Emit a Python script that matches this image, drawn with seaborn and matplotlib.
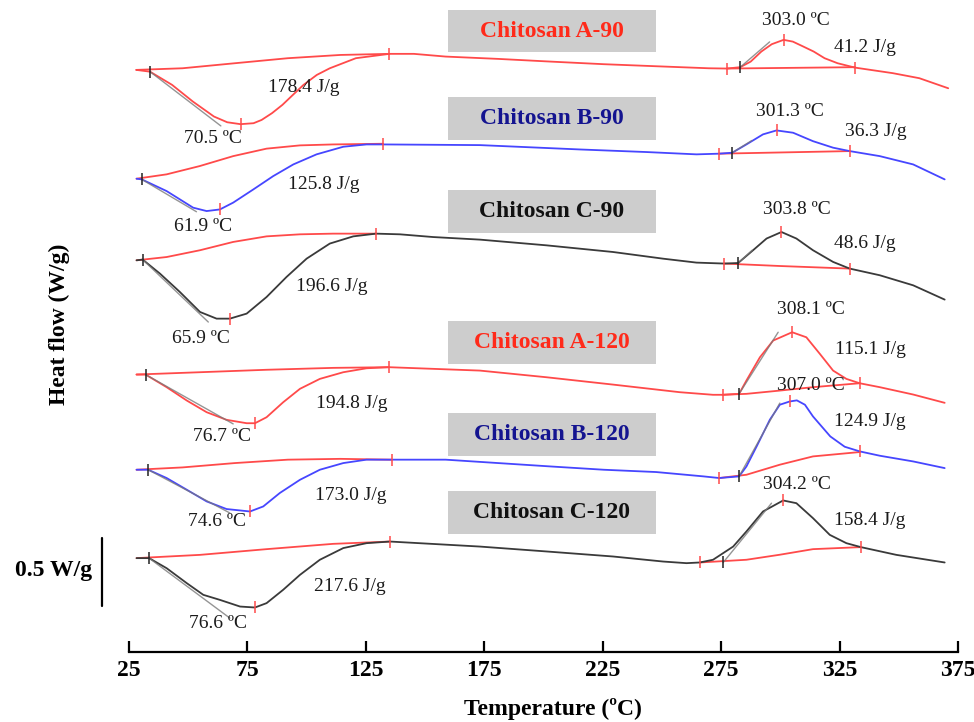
"""DSC thermograms of chitosan samples A/B/C dried at 90 and 120 ºC."""

import matplotlib.pyplot as plt
from matplotlib.patches import Rectangle
import seaborn as sns

# ---------------------------------------------------------------------------
# Data (temperature in ºC, heat flow in W/g relative
# to the first point of each curve).
# ---------------------------------------------------------------------------
samples = ["Chitosan A-90", "Chitosan B-90", "Chitosan C-90",
           "Chitosan A-120", "Chitosan B-120", "Chitosan C-120"]
curve_colors = ["#ff4a4a", "#4646ff", "#3a3a3a",
                "#ff4a4a", "#4646ff", "#3a3a3a"]
label_colors = ["#ff2a1a", "#141490", "#111111",
                "#ff2a1a", "#141490", "#111111"]
offsets = [4.28, 3.48, 2.88, 2.04, 1.34, 0.69]

a90_t = [28.1, 33.9, 43.2, 52.0, 60.9, 66.5, 72.1, 77.6, 81.0, 85.4, 89.8,
         94.2, 98.7, 104.3, 109.8, 120.8, 135.0, 145.3, 158.7, 180.8, 203.1,
         225.4, 247.4, 269.8, 277.4, 283.1, 287.5, 292.0, 296.4, 301.4, 305.3,
         309.8, 314.1, 318.7, 324.2, 331.5, 347.5, 358.7, 370.9]
a90_hf = [0.0, -0.013, -0.110, -0.233, -0.343, -0.385, -0.399, -0.392,
          -0.368, -0.318, -0.257, -0.184, -0.110, -0.037, 0.012, 0.086,
          0.118, 0.118, 0.098, 0.081, 0.061, 0.042, 0.027, 0.012, 0.010,
          0.020, 0.061, 0.135, 0.189, 0.221, 0.208, 0.171, 0.135, 0.086,
          0.049, 0.017, -0.024, -0.061, -0.135]

b90_t = [28.2, 30.4, 40.9, 52.1, 57.8, 63.4, 69.0, 77.5, 85.9, 94.4, 104.2,
         115.5, 125.3, 132.3, 173.2, 215.4, 243.5, 264.6, 274.2, 279.7, 285.7,
         292.7, 298.4, 305.4, 313.8, 322.3, 329.3, 342.0, 356.1, 369.4]
b90_hf = [0.0, -0.005, -0.091, -0.213, -0.238, -0.226, -0.176, -0.079,
          0.019, 0.105, 0.179, 0.235, 0.252, 0.252, 0.247, 0.215, 0.196,
          0.179, 0.184, 0.191, 0.252, 0.326, 0.355, 0.338, 0.276, 0.228,
          0.203, 0.166, 0.105, -0.005]

c90_t = [28.2, 30.8, 38.1, 46.5, 55.0, 62.0, 67.6, 74.7, 83.1, 91.5, 100.0,
         109.8, 119.7, 129.3, 139.4, 153.4, 173.2, 201.3, 229.4, 250.5, 264.6,
         276.3, 282.2, 288.5, 294.2, 300.5, 306.8, 313.8, 322.3, 329.3, 342.0,
         356.1, 369.4]
c90_hf = [0.0, 0.005, -0.098, -0.233, -0.380, -0.429, -0.429, -0.392,
          -0.270, -0.123, 0.012, 0.123, 0.176, 0.196, 0.191, 0.171, 0.152,
          0.110, 0.061, 0.012, -0.017, -0.024, -0.020, 0.074, 0.160, 0.208,
          0.160, 0.074, -0.012, -0.061, -0.110, -0.184, -0.289]

a120_t = [28.2, 32.0, 40.9, 49.4, 57.8, 66.2, 74.7, 78.2, 83.1, 90.1, 97.2,
          105.6, 115.5, 125.3, 134.7, 173.2, 201.3, 229.4, 257.6, 271.6, 275.6,
          282.6, 285.7, 291.4, 297.0, 305.0, 311.0, 316.7, 322.3, 327.9, 333.5,
          342.0, 356.1, 369.4]
a120_hf = [0.0, 0.0, -0.093, -0.191, -0.277, -0.333, -0.358, -0.358, -0.314,
           -0.204, -0.105, -0.032, 0.017, 0.046, 0.054, 0.029, -0.020, -0.074,
           -0.130, -0.149, -0.149, -0.142, -0.044, 0.127, 0.250, 0.311, 0.274,
           0.152, 0.029, -0.032, -0.064, -0.093, -0.147, -0.208]

b120_t = [28.2, 33.1, 40.9, 49.4, 57.8, 66.2, 76.1, 81.7, 88.7, 97.2, 105.6,
          115.5, 125.3, 135.9, 158.7, 180.9, 203.1, 225.4, 247.6, 267.6, 274.2,
          282.6, 285.7, 290.0, 295.6, 299.8, 304.0, 307.0, 310.4, 313.8, 321.1,
          327.2, 333.5, 342.0, 356.1, 369.4]
b120_hf = [0.0, 0.0, -0.061, -0.147, -0.233, -0.289, -0.307, -0.270, -0.171,
           -0.074, 0.0, 0.049, 0.074, 0.074, 0.074, 0.049, 0.024, 0.0, -0.017,
           -0.049, -0.061, -0.049, 0.024, 0.171, 0.368, 0.478, 0.502, 0.510,
           0.478, 0.392, 0.245, 0.169, 0.135, 0.103, 0.061, 0.012]

c120_t = [28.2, 33.5, 40.9, 49.4, 56.4, 63.4, 71.9, 78.2, 83.1, 90.1, 97.2,
          105.6, 115.5, 125.3, 135.2, 173.2, 201.3, 229.4, 250.5, 260.4, 266.0,
          271.6, 280.1, 285.7, 292.7, 301.2, 306.8, 313.8, 320.9, 327.9, 334.0,
          349.0, 369.4]
c120_hf = [0.0, 0.0, -0.074, -0.184, -0.270, -0.307, -0.356, -0.363, -0.331,
           -0.233, -0.123, -0.012, 0.074, 0.110, 0.122, 0.085, 0.049, 0.012,
           -0.025, -0.037, -0.032, -0.012, 0.085, 0.196, 0.343, 0.424, 0.404,
           0.294, 0.171, 0.110, 0.081, 0.024, -0.032]

# integration baselines (endotherm, exotherm)
a90_base_t = [[28.1, 47.6, 69.7, 92.1, 114.3, 135.0], [277.4, 331.5]]
a90_base_hf = [[0.0, 0.012, 0.049, 0.086, 0.110, 0.118], [0.010, 0.020]]
b90_base_t = [[28.2, 40.9, 54.9, 69.0, 83.1, 97.2, 111.2, 132.3],
              [274.2, 329.3]]
b90_base_hf = [[0.0, 0.032, 0.093, 0.166, 0.221, 0.245, 0.252, 0.257],
               [0.184, 0.203]]
c90_base_t = [[28.2, 40.9, 55.0, 69.0, 83.1, 97.2, 111.2, 129.3],
              [276.3, 299.8, 329.3]]
c90_base_hf = [[0.0, 0.024, 0.074, 0.135, 0.176, 0.191, 0.196, 0.196],
               [-0.024, -0.042, -0.061]]
a120_base_t = [[28.2, 55.0, 83.1, 111.2, 134.7],
               [275.6, 285.7, 299.8, 313.8, 333.5]]
a120_base_hf = [[0.0, 0.017, 0.035, 0.049, 0.054],
                [-0.149, -0.142, -0.118, -0.093, -0.064]]
b120_base_t = [[28.2, 47.6, 69.7, 92.1, 114.3, 135.9],
               [274.2, 285.7, 299.8, 313.8, 333.5]]
b120_base_hf = [[0.0, 0.017, 0.049, 0.074, 0.080, 0.074],
                [-0.061, -0.037, 0.037, 0.098, 0.130]]
c120_base_t = [[28.2, 55.0, 83.1, 111.2, 135.2],
               [266.0, 285.7, 299.8, 313.8, 334.0]]
c120_base_hf = [[0.0, 0.024, 0.066, 0.105, 0.122],
                [-0.032, -0.012, 0.025, 0.066, 0.081]]

# onset tangents (start, end) for the endotherm and the exotherm
a90_tan = [[(33.9, -0.013), (63.8, -0.412)], [(283.1, 0.020), (295.5, 0.206)]]
b90_tan = [[(30.4, -0.005), (53.5, -0.243)], [(279.7, 0.191), (288.0, 0.281)]]
c90_tan = [[(30.8, 0.005), (58.5, -0.454)], [(282.2, -0.020), (288.1, 0.074)]]
a120_tan = [[(32.0, 0.0), (69.0, -0.363)], [(282.6, -0.142), (299.1, 0.311)]]
b120_tan = [[(33.1, 0.0), (67.6, -0.318)], [(282.6, -0.049), (299.8, 0.490)]]
c120_tan = [[(33.5, 0.0), (67.6, -0.441)], [(275.9, -0.032), (296.3, 0.404)]]

# limit / peak markers (red) and onset markers (black)
a90_red = [(72.1, -0.399), (135.0, 0.118), (277.4, 0.010), (331.5, 0.017),
           (301.4, 0.221)]
b90_red = [(63.4, -0.226), (132.3, 0.252), (274.2, 0.184), (329.3, 0.203),
           (298.4, 0.355)]
c90_red = [(67.6, -0.429), (129.3, 0.196), (276.3, -0.024), (329.3, -0.061),
           (300.5, 0.208)]
a120_red = [(78.2, -0.358), (134.7, 0.054), (275.6, -0.149), (333.5, -0.064),
            (305.0, 0.311)]
b120_red = [(76.1, -0.307), (135.9, 0.074), (274.2, -0.061), (333.5, 0.135),
            (304.0, 0.502)]
c120_red = [(78.2, -0.363), (135.2, 0.122), (266.0, -0.032), (334.0, 0.081),
            (301.2, 0.424)]
a90_onset = [(33.9, -0.013), (283.1, 0.020)]
b90_onset = [(30.4, -0.005), (279.7, 0.191)]
c90_onset = [(30.8, 0.005), (282.2, -0.020)]
a120_onset = [(32.0, 0.0), (282.6, -0.142)]
b120_onset = [(33.1, 0.0), (282.6, -0.049)]
c120_onset = [(33.5, 0.0), (275.9, -0.032)]

# annotations: text, temperature, heat flow (plot units)
annotations = [
    ("70.5 ºC", 60.3, 3.779), ("178.4 J/g", 98.8, 4.147),
    ("303.0 ºC", 306.5, 4.640), ("41.2 J/g", 335.7, 4.445),
    ("61.9 ºC", 56.2, 3.125), ("125.8 J/g", 107.3, 3.434),
    ("301.3 ºC", 304.2, 3.973), ("36.3 J/g", 340.4, 3.826),
    ("65.9 ºC", 55.6, 2.305), ("196.6 J/g", 110.5, 2.691),
    ("303.8 ºC", 307.2, 3.250), ("48.6 J/g", 335.7, 3.004),
    ("76.7 ºC", 64.1, 1.581), ("194.8 J/g", 118.9, 1.827),
    ("308.1 ºC", 312.9, 2.515), ("115.1 J/g", 337.9, 2.224),
    ("74.6 ºC", 62.1, 0.960), ("173.0 J/g", 118.5, 1.154),
    ("307.0 ºC", 312.9, 1.963), ("124.9 J/g", 337.6, 1.695),
    ("76.6 ºC", 62.8, 0.210), ("217.6 J/g", 118.3, 0.478),
    ("304.2 ºC", 307.2, 1.228), ("158.4 J/g", 337.9, 0.970),
]
label_y = [4.566, 3.926, 3.238, 2.279, 1.598, 1.022]

curves_t = [a90_t, b90_t, c90_t, a120_t, b120_t, c120_t]
curves_hf = [a90_hf, b90_hf, c90_hf, a120_hf, b120_hf, c120_hf]
bases_t = [a90_base_t, b90_base_t, c90_base_t,
           a120_base_t, b120_base_t, c120_base_t]
bases_hf = [a90_base_hf, b90_base_hf, c90_base_hf,
            a120_base_hf, b120_base_hf, c120_base_hf]
tangents = [a90_tan, b90_tan, c90_tan, a120_tan, b120_tan, c120_tan]
red_marks = [a90_red, b90_red, c90_red, a120_red, b120_red, c120_red]
onset_marks = [a90_onset, b90_onset, c90_onset,
               a120_onset, b120_onset, c120_onset]

# ---------------------------------------------------------------------------
sns.set_theme(style="white")
plt.rcParams["font.family"] = ["Liberation Serif", "DejaVu Serif"]

fig = plt.figure(figsize=(9.74, 7.22), dpi=100)
ax = fig.add_axes([0.1324, 0.0970, 0.8511, 0.9030])

RED = "#ff4a4a"
for i, name in enumerate(samples):
    off = offsets[i]
    for bt, bh in zip(bases_t[i], bases_hf[i]):
        sns.lineplot(x=bt, y=[v + off for v in bh], ax=ax, color=RED,
                     lw=1.3, estimator=None, sort=False, zorder=3)
    sns.lineplot(x=curves_t[i], y=[v + off for v in curves_hf[i]], ax=ax,
                 color=curve_colors[i], lw=1.3, estimator=None, sort=False,
                 zorder=4)
    # onset tangents drawn over the curve, as in the analysis software
    for (t0, h0), (t1, h1) in tangents[i]:
        ax.plot([t0, t1], [h0 + off, h1 + off], color="#7a7a7a", lw=1.0,
                alpha=0.8, zorder=4.5)
    ax.plot([p[0] for p in red_marks[i]], [p[1] + off for p in red_marks[i]],
            ls="none", marker="|", ms=9, mew=1.1, color=RED, zorder=5)
    ax.plot([p[0] for p in onset_marks[i]],
            [p[1] + off for p in onset_marks[i]],
            ls="none", marker="|", ms=9, mew=1.1, color="#222222", zorder=5)

    # sample label in a grey box
    ax.add_patch(Rectangle((159.7, label_y[i] - 0.158), 87.7, 0.316,
                           facecolor="#cdcdcd", edgecolor="none", zorder=1))
    ax.text(203.5, label_y[i], name, ha="center", va="center",
            fontsize=17, fontweight="bold", color=label_colors[i], zorder=6)

for text, t, h in annotations:
    ax.text(t, h, text, ha="center", va="center", fontsize=14,
            color="#1a1a1a", zorder=6)

# 0.5 W/g scale bar
ax.plot([13.5, 13.5], [0.34, 0.84], color="black", lw=1.6, clip_on=False)
ax.text(9.4, 0.596, "0.5 W/g", ha="right", va="center", fontsize=17,
        fontweight="bold", color="black")

ax.set_xlim(25, 375)
ax.set_ylim(0, 4.794)
ax.set_xticks(range(25, 376, 50))
ax.set_yticks([])
ax.tick_params(axis="x", direction="in", length=8, width=1.6, pad=6,
               labelsize=17, bottom=True, colors="black")
for lab in ax.get_xticklabels():
    lab.set_fontweight("bold")
for side in ["top", "left", "right"]:
    ax.spines[side].set_visible(False)
ax.spines["bottom"].set_color("black")
ax.spines["bottom"].set_linewidth(1.6)
ax.set_xlabel("Temperature (ºC)", fontsize=17, fontweight="bold",
              color="black")
ax.xaxis.set_label_coords(0.511, -0.070)
ax.set_ylabel("")
fig.text(59 / 974, 1 - 324 / 722, "Heat flow (W/g)", rotation=90,
         ha="center", va="center", fontsize=17, fontweight="bold",
         color="black")

fig.savefig("out.png", dpi=100)
